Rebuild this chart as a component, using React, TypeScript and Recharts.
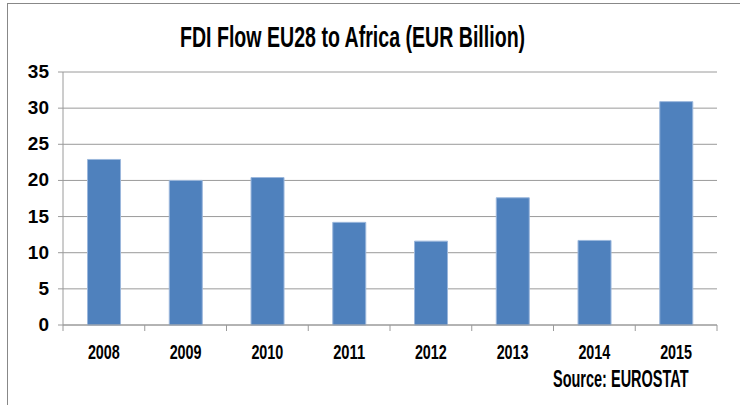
import React from "react";
import { BarChart, Bar, XAxis, YAxis, CartesianGrid } from "recharts";

const years = ["2008", "2009", "2010", "2011", "2012", "2013", "2014", "2015"];
const fdiFlow = [22.9, 20.0, 20.4, 14.2, 11.6, 17.6, 11.7, 30.9];
const yTicks = [0, 5, 10, 15, 20, 25, 30, 35];

const data = years.map((year, i) => ({ year, value: fdiFlow[i] }));

const GRID = "#9a9a9a";
const BAR = "#4F81BD";
const FONT = "'Liberation Sans', Arial, sans-serif";

function YearTick(props: any) {
  const { x, y, payload, index, width, visibleTicksCount } = props;
  const band = (width || 654) / (visibleTicksCount || years.length);
  const top = y - 8;
  return (
    <g>
      <line x1={x - band / 2} x2={x - band / 2} y1={top} y2={top + 6} stroke={GRID} />
      {index === years.length - 1 && (
        <line x1={x + band / 2} x2={x + band / 2} y1={top} y2={top + 6} stroke={GRID} />
      )}
      <text
        x={x}
        y={top + 34}
        textAnchor="middle"
        fontFamily={FONT}
        fontWeight="bold"
        fontSize={20}
        fill="#000"
        textLength={32}
        lengthAdjust="spacingAndGlyphs"
      >
        {payload.value}
      </text>
    </g>
  );
}

function ValueTick(props: any) {
  const { x, y, payload } = props;
  return (
    <text x={x - 7} y={y + 6} textAnchor="end" fontFamily={FONT} fontWeight="bold" fontSize={19} fill="#000">
      {payload.value}
    </text>
  );
}

export default function App() {
  return (
    <div style={{ position: "absolute", left: 0, top: 0, width: 740, height: 405, background: "#fff", fontFamily: FONT }}>
      <div style={{ position: "absolute", left: 7, top: 3, right: 0, bottom: 0, borderTop: "1px solid #888", borderLeft: "1px solid #888" }} />
      <div
        style={{
          position: "absolute", left: 180, top: 20, fontSize: 29, fontWeight: "bold",
          lineHeight: "34px", color: "#000", whiteSpace: "nowrap",
          transform: "scaleX(0.675)", transformOrigin: "left center",
        }}
      >
        FDI Flow EU28 to Africa (EUR Billion)
      </div>
      <BarChart
        width={740}
        height={405}
        data={data}
        margin={{ top: 72, right: 23, left: 23, bottom: 50 }}
        barCategoryGap="30%"
      >
        <CartesianGrid vertical={false} stroke={GRID} />
        <XAxis dataKey="year" height={30} axisLine={{ stroke: GRID }} tickLine={false} tick={<YearTick />} interval={0} />
        <YAxis
          width={40}
          domain={[0, 35]}
          ticks={yTicks}
          interval={0}
          axisLine={{ stroke: GRID }}
          tickLine={{ stroke: GRID }}
          tickSize={5}
          tick={<ValueTick />}
        />
        <Bar dataKey="value" fill={BAR} stroke="#9bb7dc" strokeWidth={1} isAnimationActive={false} />
      </BarChart>
      <div
        style={{
          position: "absolute", left: 553, top: 366, fontSize: 23, fontWeight: "bold",
          lineHeight: "26px", color: "#000", transform: "scaleX(0.63)", transformOrigin: "left center",
          whiteSpace: "nowrap",
        }}
      >
        Source: EUROSTAT
      </div>
    </div>
  );
}
